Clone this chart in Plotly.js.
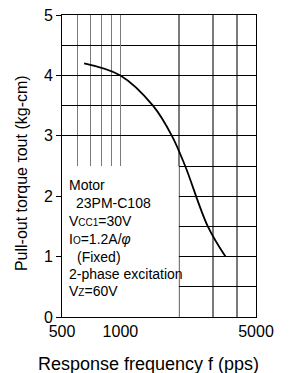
<!DOCTYPE html>
<html>
<head>
<meta charset="utf-8">
<script src="https://cdn.plot.ly/plotly-3.0.1.min.js"></script>
<style>html,body{margin:0;padding:0;background:#fff;}#chart{width:289px;height:373px;}</style>
</head>
<body>
<div id="chart"></div>
<script>
// Data
var frequency = [650, 1000, 1472, 1843, 2157, 2822, 3480];
var torque    = [4.2, 4.0, 3.5, 3.0, 2.5, 1.5, 1.0];
var xTickVals = [500, 1000, 5000];
var xTickText = ['500', '1000', '5000'];
var xMinorVals = [600, 700, 800, 900, 2000, 3000, 4000];
var xTitle = 'Response frequency f (pps)';
var yTitle = 'Pull-out torque τout (kg-cm)';
var noteLines = [
  'Motor',
  '23PM-C108',
  'V<span style="font-size:10px">CC1</span>=30V',
  'I<span style="font-size:10px">O</span>=1.2A/<i>φ</i>',
  '(Fixed)',
  '2-phase excitation',
  'V<span style="font-size:10px">Z</span>=60V'
];

var FONT = 'Liberation Sans, Arial, Helvetica, sans-serif';
// layout helpers (pixel positions of plot area)
var L = 61.5, R = 256, T = 15, B = 317;
function px2x(p){ return (p - L) / (R - L); }
function px2y(p){ return (B - p) / (B - T); }

var noteLeft = [67, 74, 67, 67, 75, 67, 67];
var noteMid  = [185, 203, 221, 239, 256.5, 274, 291];

var annotations = noteLines.map(function(t, i){
  return {
    text: t, xref: 'paper', yref: 'paper',
    x: px2x(noteLeft[i]), y: px2y(noteMid[i]),
    xanchor: 'left', yanchor: 'middle', showarrow: false,
    font: {family: FONT, size: 14, color: '#000'}
  };
});
annotations.push({
  text: xTitle, xref: 'paper', yref: 'paper',
  x: px2x(148.5), y: px2y(364), xanchor: 'center', yanchor: 'middle',
  showarrow: false, font: {family: FONT, size: 18, color: '#000'}
});
annotations.push({
  text: yTitle, xref: 'paper', yref: 'paper', textangle: -90,
  x: px2x(20.5), y: px2y(173), xanchor: 'center', yanchor: 'middle',
  showarrow: false, font: {family: FONT, size: 16, color: '#000'}
});

var trace = {
  x: frequency, y: torque, type: 'scatter', mode: 'lines',
  line: {color: '#000', width: 1.8, shape: 'spline', smoothing: 1},
  hoverinfo: 'skip'
};

var layout = {
  width: 289, height: 373,
  margin: {l: L, r: 289 - R, t: T, b: 373 - B},
  paper_bgcolor: '#fff', plot_bgcolor: '#fff',
  showlegend: false,
  font: {family: FONT, color: '#000'},
  xaxis: {
    type: 'log', range: [Math.log10(500), Math.log10(5000)],
    tickmode: 'array', tickvals: xTickVals, ticktext: xTickText,
    ticks: '', showgrid: true, gridcolor: '#7a7a7a', gridwidth: 1.5,
    minor: {tickmode: 'array', tickvals: xMinorVals, showgrid: true, gridcolor: '#7a7a7a', gridwidth: 1.5, ticks: ''},
    showline: true, mirror: true, linecolor: '#000', linewidth: 1,
    zeroline: false, tickfont: {family: FONT, size: 16, color: '#000'},
    automargin: false, fixedrange: true
  },
  yaxis: {
    range: [0, 5], tickmode: 'linear', tick0: 0, dtick: 1,
    ticks: 'outside', ticklen: 5, tickcolor: '#000', tickwidth: 1,
    showgrid: true, gridcolor: '#000', gridwidth: 1,
    minor: {dtick: 0.5, showgrid: true, gridcolor: '#000', gridwidth: 1, ticks: ''},
    showline: true, mirror: true, linecolor: '#000', linewidth: 1,
    zeroline: false, tickfont: {family: FONT, size: 16, color: '#000'},
    automargin: false, fixedrange: true
  },
  shapes: [{
    type: 'rect', xref: 'x', yref: 'y', layer: 'between',
    x0: 500, x1: 2000, y0: 0, y1: 2.5,
    fillcolor: '#fff', line: {width: 0}
  }],
  annotations: annotations
};

Plotly.newPlot('chart', [trace], layout, {staticPlot: true, displayModeBar: false});
</script>
</body>
</html>
